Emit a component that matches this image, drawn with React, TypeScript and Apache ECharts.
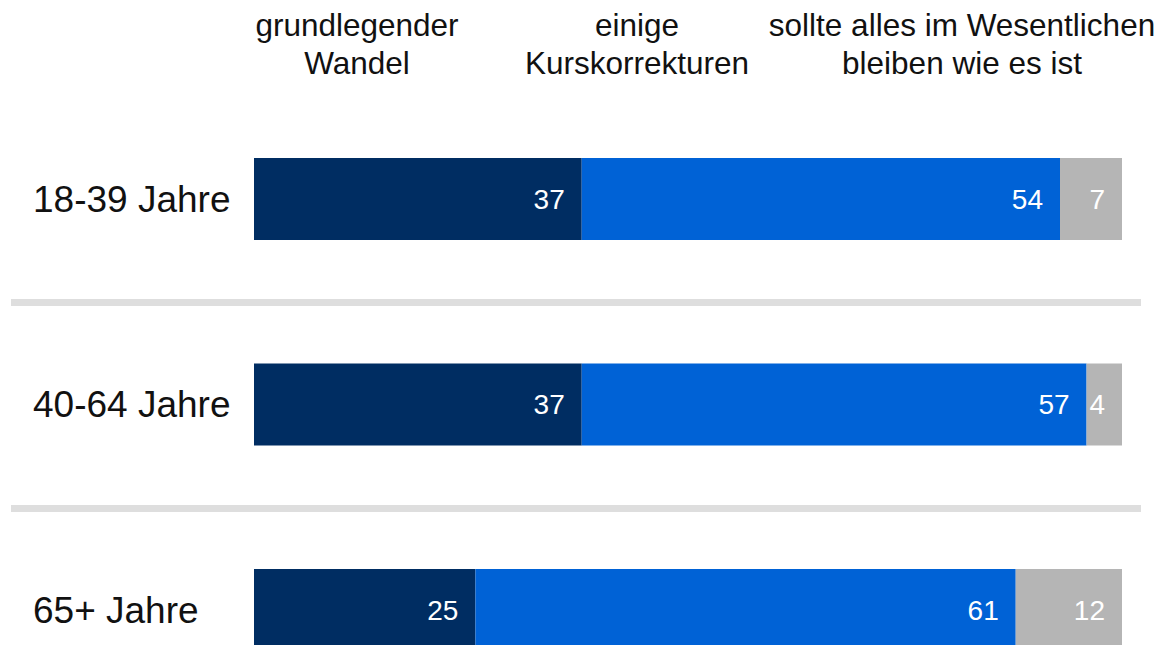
import React, { useEffect, useRef } from "react";
import * as echarts from "echarts";

const categories = ["18-39 Jahre", "40-64 Jahre", "65+ Jahre"];
const seriesNames = [
  "grundlegender Wandel",
  "einige Kurskorrekturen",
  "sollte alles im Wesentlichen bleiben wie es ist",
];
const grundlegend = [37, 37, 25];
const kurskorrektur = [54, 57, 61];
const bleiben = [7, 4, 12];
const headers = [
  "grundlegender\nWandel",
  "einige\nKurskorrekturen",
  "sollte alles im Wesentlichen\nbleiben wie es ist",
];
const colors = ["#002D62", "#0062D6", "#B5B5B5"];

const FONT = "'Liberation Sans', Arial, Helvetica, sans-serif";

export default function App() {
  const ref = useRef<HTMLDivElement>(null);
  useEffect(() => {
    if (!ref.current) return;
    const chart = echarts.init(ref.current, undefined, { renderer: "svg" });
    const values = [grundlegend, kurskorrektur, bleiben];
    const total = Math.max(
      ...categories.map((_, i) => grundlegend[i] + kurskorrektur[i] + bleiben[i])
    );
    const headerX = [357, 637, 962];
    chart.setOption({
      animation: false,
      backgroundColor: "#ffffff",
      textStyle: { fontFamily: FONT },
      grid: { left: 254, width: 868, top: 96.25, height: 616.5 },
      xAxis: {
        type: "value",
        min: 0,
        max: total,
        show: false,
      },
      yAxis: {
        type: "category",
        inverse: true,
        data: categories,
        axisLine: { show: false },
        axisTick: { show: false },
        splitLine: { show: false },
        axisLabel: {
          align: "left",
          margin: 221,
          fontSize: 37,
          color: "#111111",
          fontFamily: FONT,
        },
      },
      graphic: [
        ...headers.map((h, i) => ({
          type: "text",
          x: headerX[i],
          y: 44,
          style: {
            text: h,
            fontSize: 31.5,
            lineHeight: 38,
            fontFamily: FONT,
            fill: "#111111",
            align: "center",
            verticalAlign: "middle",
          },
        })),
        {
          type: "rect",
          shape: { x: 11, y: 299, width: 1130, height: 7 },
          style: { fill: "#DEDEDE" },
        },
        {
          type: "rect",
          shape: { x: 11, y: 505, width: 1130, height: 7 },
          style: { fill: "#DEDEDE" },
        },
      ],
      series: values.map((v, i) => ({
        type: "bar",
        name: seriesNames[i],
        stack: "total",
        barWidth: 82,
        data: v,
        itemStyle: { color: colors[i] },
        label: {
          show: true,
          position: "insideRight",
          distance: 17,
          color: "#ffffff",
          fontSize: 28,
          fontFamily: FONT,
        },
      })),
    });
    return () => chart.dispose();
  }, []);
  return (
    <div
      style={{
        position: "absolute",
        left: 0,
        top: 0,
        width: 1163,
        height: 645,
        overflow: "hidden",
      }}
    >
      <div ref={ref} style={{ width: 1163, height: 720 }} />
    </div>
  );
}
